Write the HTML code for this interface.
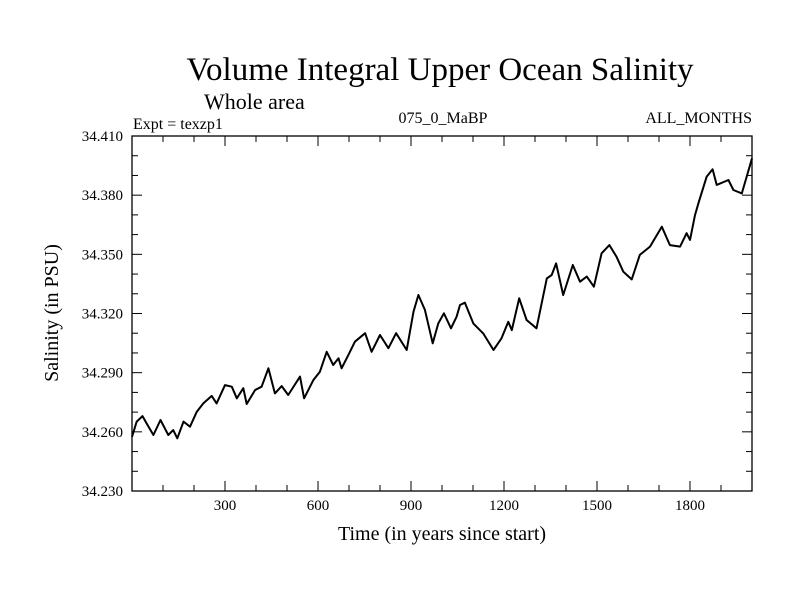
<!DOCTYPE html>
<html><head><meta charset="utf-8"><style>
body{margin:0;background:#fff;}
svg text{font-family:"Liberation Serif",serif;fill:#000;}
</style></head><body>
<svg id="c" width="800" height="600" xmlns="http://www.w3.org/2000/svg">
<text x="440" y="80" font-size="33" text-anchor="middle">Volume Integral Upper Ocean Salinity</text>
<text x="204" y="109" font-size="22">Whole area</text>
<text x="133" y="129" font-size="16">Expt = texzp1</text>
<text x="443" y="123" font-size="16" text-anchor="middle">075_0_MaBP</text>
<text x="752" y="123" font-size="16" text-anchor="end">ALL_MONTHS</text>
<text transform="translate(58,313) rotate(-90)" font-size="20" text-anchor="middle">Salinity (in PSU)</text>
<text x="442" y="540" font-size="20" text-anchor="middle">Time (in years since start)</text>
<g id="axes"></g>
<path id="line" fill="none" stroke="#000" stroke-width="2" stroke-linejoin="round"/>
</svg>
<script>
const years=[0,15,34,47,69,92,117,133,146,166,187,209,230,257,273,300,322,338,359,370,397,418,440,461,483,504,542,555,585,606,628,649,666,676,698,719,752,773,800,827,852,886,908,924,945,970,988,1006,1029,1047,1058,1074,1101,1133,1166,1192,1214,1225,1249,1273,1305,1338,1354,1368,1391,1422,1445,1467,1490,1515,1540,1563,1585,1612,1638,1671,1709,1735,1768,1789,1800,1816,1827,1854,1873,1886,1924,1940,1967,1983,2000];
const salinity=[34.2575,34.2652,34.268,34.2643,34.2584,34.266,34.2584,34.2609,34.2567,34.2652,34.2626,34.2702,34.2744,34.2782,34.2744,34.2837,34.2829,34.277,34.2821,34.2741,34.2812,34.2829,34.2922,34.2795,34.2832,34.2787,34.288,34.277,34.2863,34.2905,34.3006,34.2939,34.2973,34.2922,34.299,34.3057,34.31,34.3006,34.3091,34.3024,34.31,34.3015,34.3209,34.3294,34.3218,34.3049,34.315,34.3201,34.3125,34.3184,34.3243,34.3255,34.315,34.3099,34.3015,34.3074,34.3158,34.3116,34.3277,34.3167,34.3125,34.3378,34.3395,34.3454,34.3294,34.3446,34.3361,34.3387,34.3336,34.3505,34.3547,34.3488,34.3412,34.3373,34.3497,34.3539,34.364,34.3547,34.3539,34.3607,34.3573,34.3699,34.3759,34.3894,34.3931,34.3852,34.3877,34.3826,34.3809,34.3894,34.3987];
const xTicks=[300,600,900,1200,1500,1800];
const yTicks=["34.230","34.260","34.290","34.320","34.350","34.380","34.410"];
const L=132,R=752,T=136,B=491,x0=0,x1=2000,y0=34.23,y1=34.41;
const X=v=>L+(v-x0)/(x1-x0)*(R-L);
const Y=v=>B-(v-y0)/(y1-y0)*(B-T);
const ns="http://www.w3.org/2000/svg",g=document.getElementById('axes');
function mk(t,a){const e=document.createElementNS(ns,t);for(const k in a)e.setAttribute(k,a[k]);g.appendChild(e);return e;}
const fr=mk('rect',{x:L,y:T,width:R-L,height:B-T,fill:'none',stroke:'#000','stroke-width':1.3});


for(let v=100;v<2000;v+=100){const maj=v%300===0,len=maj?10:6;
 const t1=mk('line',{x1:X(v),x2:X(v),y1:B,y2:B-len,stroke:'#000'});
 
 
 const t2=mk('line',{x1:X(v),x2:X(v),y1:T,y2:T+len,stroke:'#000'});
 
 }
xTicks.forEach(v=>{const t=mk('text',{x:X(v),y:B+19,'font-size':15,'text-anchor':'middle'});t.textContent=v;
 
 });
for(let i=1;i<18;i++){const v=y0+i*0.01,maj=i%3===0,len=maj?10:6;
 const t1=mk('line',{x1:L,x2:L+len,y1:Y(v),y2:Y(v),stroke:'#000'});
 
 
 const t2=mk('line',{x1:R,x2:R-len,y1:Y(v),y2:Y(v),stroke:'#000'});
 
 }
yTicks.forEach(s=>{const t=mk('text',{x:L-9,y:Y(parseFloat(s))+5,'font-size':15,'text-anchor':'end'});t.textContent=s;
 
 });
document.getElementById('line').setAttribute('d',years.map((v,i)=>(i?'L':'M')+X(v).toFixed(1)+','+Y(salinity[i]).toFixed(1)).join(''));
</script>
</body></html>
